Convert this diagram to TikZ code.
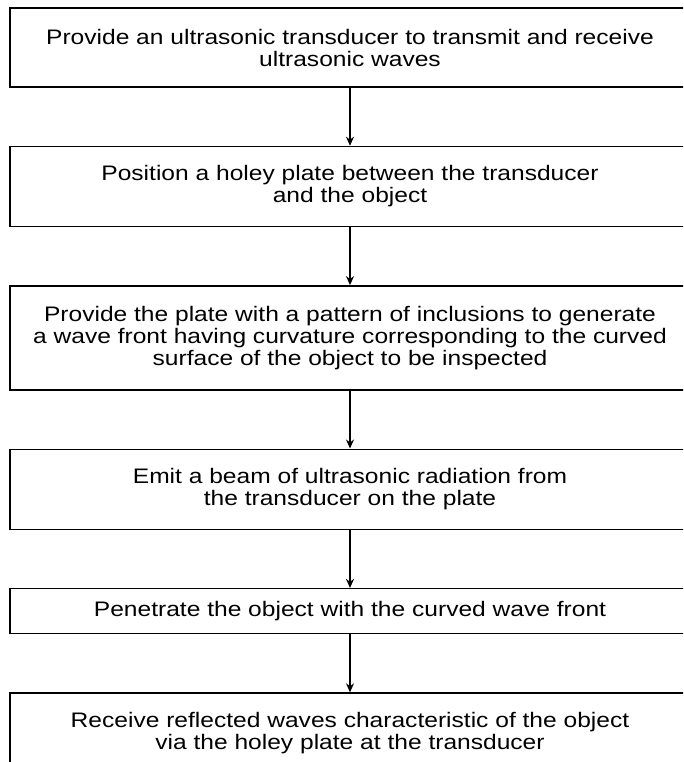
\documentclass[tikz,border=0pt]{standalone}
\usepackage{fontspec}
\setmainfont{Liberation Sans}[FakeStretch=1.17]
\usetikzlibrary{arrows.meta,positioning}

\begin{document}
\begin{tikzpicture}[x=1pt,y=1pt,>={Stealth[length=9pt,width=8pt]},
    box/.style={draw,line width=1.4pt,minimum width=680pt,minimum height=80pt,
      inner sep=2pt,align=center,font=\fontsize{21}{22}\selectfont},
    node distance=58pt]

% fix the visible area
\clip (0,0) rectangle (683,-762);

% draw all boxes
\node[box,minimum height=79pt] (transducer) at (350,-47.5)
  {Provide an ultrasonic transducer to transmit and receive\\ultrasonic waves};
\node[box,below=of transducer] (plate)
  {Position a holey plate between the transducer\\and the object};
\node[box,below=of plate,minimum height=104pt] (pattern)
  {Provide the plate with a pattern of inclusions to generate\\a wave front having curvature corresponding to the curved\\surface of the object to be inspected};
\node[box,below=of pattern] (beam)
  {Emit a beam of ultrasonic radiation from\\the transducer on the plate};
\node[box,below=of beam,minimum height=45pt] (penetrate)
  {Penetrate the object with the curved wave front};
\node[box,below=of penetrate] (receive)
  {Receive reflected waves characteristic of the object\\via the holey plate at the transducer};

% draw arrows between boxes
\foreach \from/\to in {transducer/plate,plate/pattern,pattern/beam,beam/penetrate,penetrate/receive}
  \draw[->,line width=1.1pt] (\from) -- (\to);

\end{tikzpicture}
\end{document}
